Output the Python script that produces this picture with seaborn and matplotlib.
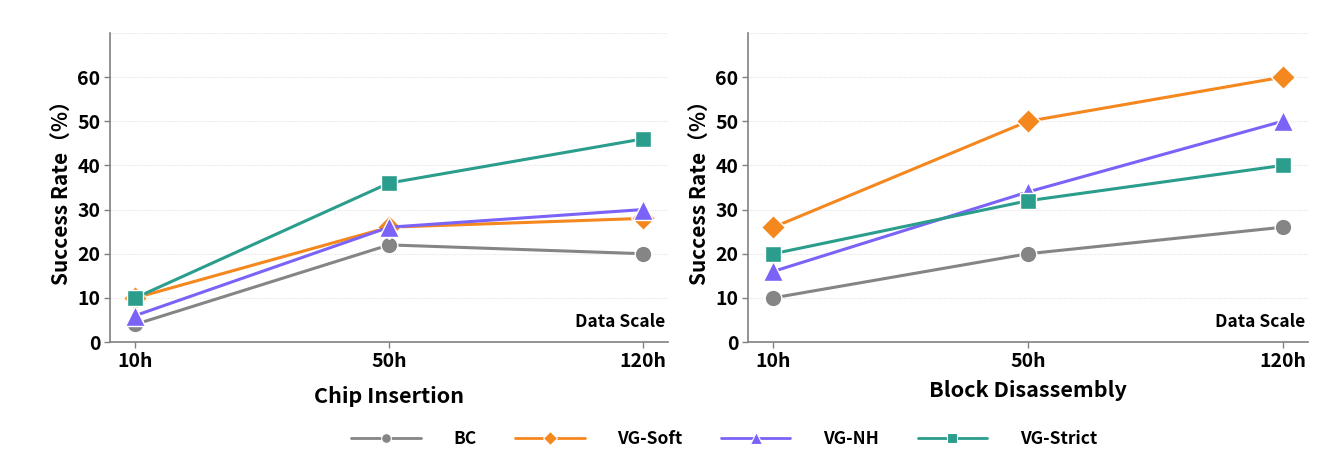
import matplotlib
matplotlib.use("Agg")
import matplotlib.pyplot as plt
import seaborn as sns
import pandas as pd
from matplotlib.lines import Line2D

times = ["10h", "50h", "120h"]
methods = ["BC", "VG-Soft", "VG-NH", "VG-Strict"]
chip_bc = [4, 22, 20]
chip_soft = [10, 26, 28]
chip_nh = [6, 26, 30]
chip_strict = [10, 36, 46]
block_bc = [10, 20, 26]
block_soft = [26, 50, 60]
block_nh = [16, 34, 50]
block_strict = [20, 32, 40]
tasks = ["Chip Insertion", "Block Disassembly"]

colors = {"BC": "#858585", "VG-Soft": "#F5871F", "VG-NH": "#7B63F7", "VG-Strict": "#2A9D8C"}
markers = {"BC": "o", "VG-Soft": "D", "VG-NH": "^", "VG-Strict": "s"}

def make_df(vals):
    rows = []
    for m, v in zip(methods, vals):
        for t, y in zip(times, v):
            rows.append({"time": t, "rate": y, "method": m})
    return pd.DataFrame(rows)

dfs = [make_df([chip_bc, chip_soft, chip_nh, chip_strict]),
       make_df([block_bc, block_soft, block_nh, block_strict])]

sns.set_style("white")
plt.rcParams['font.family'] = ['Noto Sans CJK SC', 'DejaVu Sans']
plt.rcParams['text.color'] = 'black'
plt.rcParams['axes.labelcolor'] = 'black'
plt.rcParams['xtick.color'] = 'black'
plt.rcParams['ytick.color'] = 'black'

fig = plt.figure(figsize=(13.29, 4.59), dpi=100)
positions = [[0.0828, 0.2549, 0.4199, 0.6732], [0.5628, 0.2549, 0.4214, 0.6732]]
for i, (df, task) in enumerate(zip(dfs, tasks)):
    ax = fig.add_axes(positions[i])
    for y in range(10, 80, 10):
        ax.axhline(y, color="#e6e6e6", lw=0.8, ls=(0, (1, 1)), zorder=0)
    sns.lineplot(data=df, x="time", y="rate", hue="method", style="method",
                 markers=markers, dashes=False, palette=colors, markersize=12,
                 linewidth=2.2, markeredgecolor="white", markeredgewidth=1.0,
                 ax=ax, legend=False, sort=False)
    for ln in ax.lines:
        if ln.get_marker() == "^":
            ln.set_markersize(15)
    ax.set_xlim(-0.1, 2.1)
    ax.set_ylim(0, 70)
    ax.set_yticks(range(0, 70, 10))
    ax.set_xticks(range(3))
    ax.set_xticklabels(times)
    for s in ["top", "right"]:
        ax.spines[s].set_visible(False)
    for s in ["left", "bottom"]:
        ax.spines[s].set_color("#808080")
        ax.spines[s].set_linewidth(1.2)
    ax.tick_params(axis="both", which="both", length=4, width=1, color="#808080",
                   labelcolor="black", labelsize=14, pad=3, left=True, bottom=True)
    for lab in ax.get_xticklabels() + ax.get_yticklabels():
        lab.set_fontweight("bold")
    ax.set_ylabel("Success Rate（%）", fontsize=15, fontweight="bold", labelpad=4)
    ax.set_xlabel(task, fontsize=15.5, fontweight="bold", labelpad=11 if i == 0 else 7)
    ax.text(0.995, 0.035, "Data Scale", transform=ax.transAxes, ha="right", va="bottom",
            fontsize=12.5, fontweight="bold")

handles = [Line2D([0], [0], color=colors[m], marker=markers[m], lw=2,
                  markersize=9 if markers[m] == "^" else 7,
                  markeredgecolor="white", markeredgewidth=0.8) for m in methods]
leg = fig.legend(handles, methods, loc="lower center", bbox_to_anchor=(0.545, -0.01),
                 ncol=4, frameon=False, handlelength=4.0, handletextpad=1.9,
                 columnspacing=2.2, prop={"size": 12.5, "weight": "bold"})

fig.savefig("out.png", dpi=100)
